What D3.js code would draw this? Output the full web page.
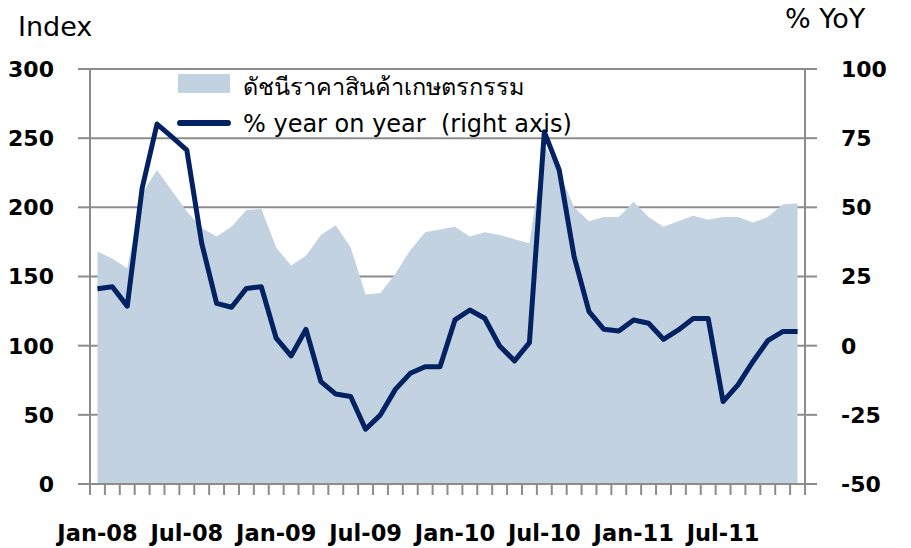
<!DOCTYPE html>
<html><head>
<meta charset="utf-8">
<script src="https://d3js.org/d3.v7.min.js"></script>
<style>
  body { margin: 0; background: #fff; }
  text { font-family: "DejaVu Sans", sans-serif; fill: #000; }
  .ticklab { font-weight: bold; font-size: 22px; }
  .xlab { font-weight: bold; font-size: 22.5px; }
  line.grid, line.tick, line.axisline { stroke: #8c8c8c; stroke-width: 2px; }
</style>
</head>
<body>
<svg id="chart" width="911" height="548"></svg>
<script>
// months Jan-08 .. Dec-11
const months = [
  "Jan-08","Feb-08","Mar-08","Apr-08","May-08","Jun-08","Jul-08","Aug-08","Sep-08","Oct-08","Nov-08","Dec-08",
  "Jan-09","Feb-09","Mar-09","Apr-09","May-09","Jun-09","Jul-09","Aug-09","Sep-09","Oct-09","Nov-09","Dec-09",
  "Jan-10","Feb-10","Mar-10","Apr-10","May-10","Jun-10","Jul-10","Aug-10","Sep-10","Oct-10","Nov-10","Dec-10",
  "Jan-11","Feb-11","Mar-11","Apr-11","May-11","Jun-11","Jul-11","Aug-11","Sep-11","Oct-11","Nov-11","Dec-11"
];
const xLabels = ["Jan-08","Jul-08","Jan-09","Jul-09","Jan-10","Jul-10","Jan-11","Jul-11"];

// agricultural price index (left axis)
const indexVals = [
  168,163,156,210,227,212,197,185,179,186,198,199,
  171,158,165,180,187,171,137,138,152,169,182,184,
  186,179,182,180,177,174,245,225,200,190,193,193,
  204,193,186,190,194,191,193,193,189,193,202,203
];
// % year on year (right axis)
const yoyVals = [
  20.6,21.3,14.3,56.9,80.1,75.5,70.7,37.0,15.3,13.9,20.7,21.3,
  2.7,-3.7,5.9,-13.0,-17.5,-18.4,-30.2,-25.0,-15.8,-10.0,-7.6,-7.6,
  9.3,12.9,9.9,-0.1,-5.5,1.1,77.3,63.5,32.2,12.3,5.9,5.3,
  9.3,8.1,2.3,5.7,9.8,9.8,-20.2,-14.2,-5.8,1.8,5.1,5.1
];
const leftTicks = [0,50,100,150,200,250,300];
const rightTicks = [-50,-25,0,25,50,75,100];

const svg = d3.select("#chart");
const pLeft = 90, pRight = 805, pTop = 69, pBottom = 484;

const x = d3.scaleBand().domain(months).range([pLeft, pRight]).padding(0);
const yL = d3.scaleLinear().domain([0, 300]).range([pBottom, pTop]);
const yR = d3.scaleLinear().domain([-50, 100]).range([pBottom, pTop]);
const cx = m => x(m) + x.bandwidth() / 2;

// gridlines
svg.selectAll("line.grid").data(leftTicks.filter(d => d > 0))
  .join("line").attr("class", "grid")
  .attr("x1", pLeft).attr("x2", pRight)
  .attr("y1", d => yL(d)).attr("y2", d => yL(d));

// area
const area = d3.area()
  .x((d, i) => cx(months[i]))
  .y0(yL(0))
  .y1(d => yL(d));
svg.append("path").datum(indexVals)
  .attr("d", area)
  .attr("fill", "#c3d2e1");

// axes lines
svg.append("line").attr("class", "axisline").attr("x1", pLeft).attr("x2", pLeft).attr("y1", pTop).attr("y2", pBottom);
svg.append("line").attr("class", "axisline").attr("x1", pRight).attr("x2", pRight).attr("y1", pTop).attr("y2", pBottom);
svg.append("line").attr("class", "axisline").attr("x1", pLeft - 12).attr("x2", pRight + 12).attr("y1", pBottom).attr("y2", pBottom);

// left ticks + labels
svg.selectAll("line.ltick").data(leftTicks).join("line").attr("class", "tick ltick")
  .attr("x1", pLeft - 12).attr("x2", pLeft).attr("y1", d => yL(d)).attr("y2", d => yL(d));
svg.selectAll("text.llab").data(leftTicks).join("text").attr("class", "ticklab llab")
  .attr("x", 54).attr("y", d => yL(d)).attr("dy", "0.36em")
  .attr("text-anchor", "end").text(d => d);

// right ticks + labels
svg.selectAll("line.rtick").data(rightTicks).join("line").attr("class", "tick rtick")
  .attr("x1", pRight).attr("x2", pRight + 12).attr("y1", d => yR(d)).attr("y2", d => yR(d));
svg.selectAll("text.rlab").data(rightTicks).join("text").attr("class", "ticklab rlab")
  .attr("x", 841).attr("y", d => yR(d)).attr("dy", "0.36em")
  .attr("text-anchor", "start").text(d => d);

// bottom ticks at month boundaries
const bounds = months.map(m => x(m)).concat([pRight]);
svg.selectAll("line.btick").data(bounds).join("line").attr("class", "tick btick")
  .attr("x1", d => d).attr("x2", d => d).attr("y1", pBottom).attr("y2", pBottom + 11);
svg.selectAll("text.xlab").data(xLabels).join("text").attr("class", "xlab")
  .attr("x", d => cx(d)).attr("y", 541).attr("text-anchor", "middle").text(d => d);

// yoy line
const line = d3.line()
  .x((d, i) => cx(months[i]))
  .y(d => yR(d));
svg.append("path").datum(yoyVals)
  .attr("d", line)
  .attr("fill", "none")
  .attr("stroke", "#032262")
  .attr("stroke-width", 5)
  .attr("stroke-linejoin", "round");

// axis titles
svg.append("text").attr("x", 18).attr("y", 36).attr("font-size", 27).text("Index");
svg.append("text").attr("x", 785).attr("y", 28).attr("font-size", 27).text("% YoY");

// legend
const lg = svg.append("g");
lg.append("rect").attr("x", 178).attr("y", 74).attr("width", 52).attr("height", 19).attr("fill", "#c3d2e1");
lg.append("text").attr("x", 243).attr("y", 95).attr("font-size", 23.5).text("ดัชนีราคาสินค้าเกษตรกรรม");
lg.append("line").attr("x1", 180).attr("x2", 228).attr("y1", 123).attr("y2", 123)
  .attr("stroke", "#032262").attr("stroke-width", 6).attr("stroke-linecap", "round");
lg.append("text").attr("x", 243).attr("y", 132).attr("font-size", 24)
  .style("white-space", "pre").text("% year on year  (right axis)");
</script>
</body></html>
